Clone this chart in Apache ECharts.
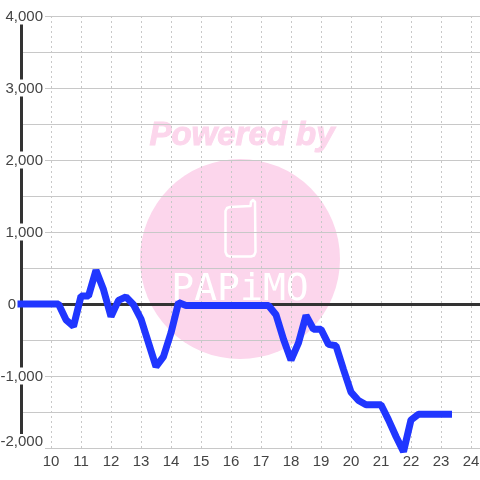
<!DOCTYPE html>
<html>
<head>
<meta charset="utf-8">
<style>
  html, body { margin: 0; padding: 0; background: #fff; }
  #main { width: 480px; height: 480px; }
</style>
<script src="https://cdn.jsdelivr.net/npm/echarts@6/dist/echarts.min.js"></script>
</head>
<body>
<div id="main"></div>
<script>
// hours, one point every quarter hour
const hours = [
  9, 10.25, 10.5, 10.75, 11, 11.25, 11.5, 11.75, 12, 12.25, 12.5, 12.75,
  13, 13.25, 13.5, 13.75, 14, 14.25, 14.5, 17.25, 17.5, 17.75, 18, 18.25,
  18.5, 18.75, 19, 19.25, 19.5, 19.75, 20, 20.25, 20.5, 21, 21.25, 21.5,
  21.75, 22, 22.25, 22.5, 23.25
];
const values = [
  0, 0, -220, -310, 110, 110, 470, 200, -175, 50, 100, -10,
  -210, -540, -870, -730, -400, 20, -20, -20, -150, -490, -780, -540,
  -160, -350, -350, -560, -580, -910, -1225, -1340, -1400, -1400, -1610, -1840,
  -2050, -1610, -1530, -1530, -1530
];
const yTicks = [-2000, 4000];

const chart = echarts.init(document.getElementById('main'));

const labelFont = { color: '#444', fontSize: 15, fontFamily: 'Liberation Sans' };
// phone outline of the logo
const phonePoints = [
  [225.5, 211], [227, 208], [230, 207], [250.5, 206], [251, 202], [253, 200], [255, 202],
  [255.5, 252], [254, 255.5], [251, 256.5], [230, 256.5], [227, 255.5], [225.5, 252]
];

chart.setOption({
  animation: false,
  backgroundColor: '#fff',
  grid: { left: 21, right: 0, top: 16, bottom: 32, outerBoundsMode: 'none' },
  // watermark behind the grid
  graphic: {
    elements: [
      { type: 'circle', z: -10, shape: { cx: 240, cy: 259, r: 100 }, style: { fill: '#fcd6ec' } },
      { type: 'text', z: -10, x: 242, y: 136, style: {
        text: 'Powered by', fill: '#fcd6ec', stroke: '#fcd6ec', lineWidth: 1,
        align: 'center', verticalAlign: 'middle',
        font: 'italic bold 33px "Liberation Sans"'
      } },
      { type: 'polygon', z: -9, shape: { points: phonePoints },
        style: { fill: 'none', stroke: '#fff', lineWidth: 2.5, lineJoin: 'round' } },
      { type: 'text', z: -9, x: 240, y: 290, style: {
        text: 'PAPiMO', fill: '#fff', align: 'center', verticalAlign: 'middle',
        font: '38px "DejaVu Sans Mono"'
      } }
    ]
  },
  xAxis: [
    {
      type: 'value', min: 9, max: 24.3, interval: 1, position: 'bottom',
      axisLine: { onZero: false, lineStyle: { color: '#c8c8c8', width: 1 } },
      axisTick: { show: false },
      axisLabel: Object.assign({
        margin: 6, showMinLabel: false, showMaxLabel: false,
        formatter: v => String(v)
      }, labelFont),
      splitLine: { show: true, showMinLine: false, showMaxLine: false,
        lineStyle: { color: '#c8c8c8', type: [2, 3], width: 1 } }
    },
    {
      // dark zero line
      type: 'value', min: 9, max: 24.3, interval: 1,
      axisLine: { onZero: true, lineStyle: { color: '#333', width: 3 } },
      axisTick: { show: false }, axisLabel: { show: false }, splitLine: { show: false }
    }
  ],
  yAxis: {
    type: 'value', min: yTicks[0], max: yTicks[1], interval: 500,
    axisLine: { show: true, onZero: false, lineStyle: { color: '#333', width: 3 } },
    axisTick: { show: false },
    axisLabel: Object.assign({
      margin: -24, align: 'right',
      formatter: v => {
        if (v % 1000 !== 0) return '';
        if (v === yTicks[0]) return '{low|' + echarts.format.addCommas(v) + '}';
        return v === 0 ? '{zero|0}' : '{tick|' + echarts.format.addCommas(v) + '}';
      },
      rich: {
        tick: Object.assign({ backgroundColor: '#fff', padding: [2, 2, 0, 2] }, labelFont),
        low: Object.assign({ backgroundColor: '#fff', padding: [0, 2, 13, 2] }, labelFont),
        zero: Object.assign({ padding: [2, 29, 0, 0] }, labelFont)
      }
    }, labelFont),
    splitLine: { show: true, lineStyle: { color: '#c8c8c8', width: 1 } }
  },
  series: [{
    type: 'line',
    data: hours.map((h, i) => [h, values[i]]),
    showSymbol: false,
    clip: false,
    z: 5,
    lineStyle: { color: '#2036ff', width: 7, cap: 'square', join: 'bevel' }
  }]
});
</script>
</body>
</html>
